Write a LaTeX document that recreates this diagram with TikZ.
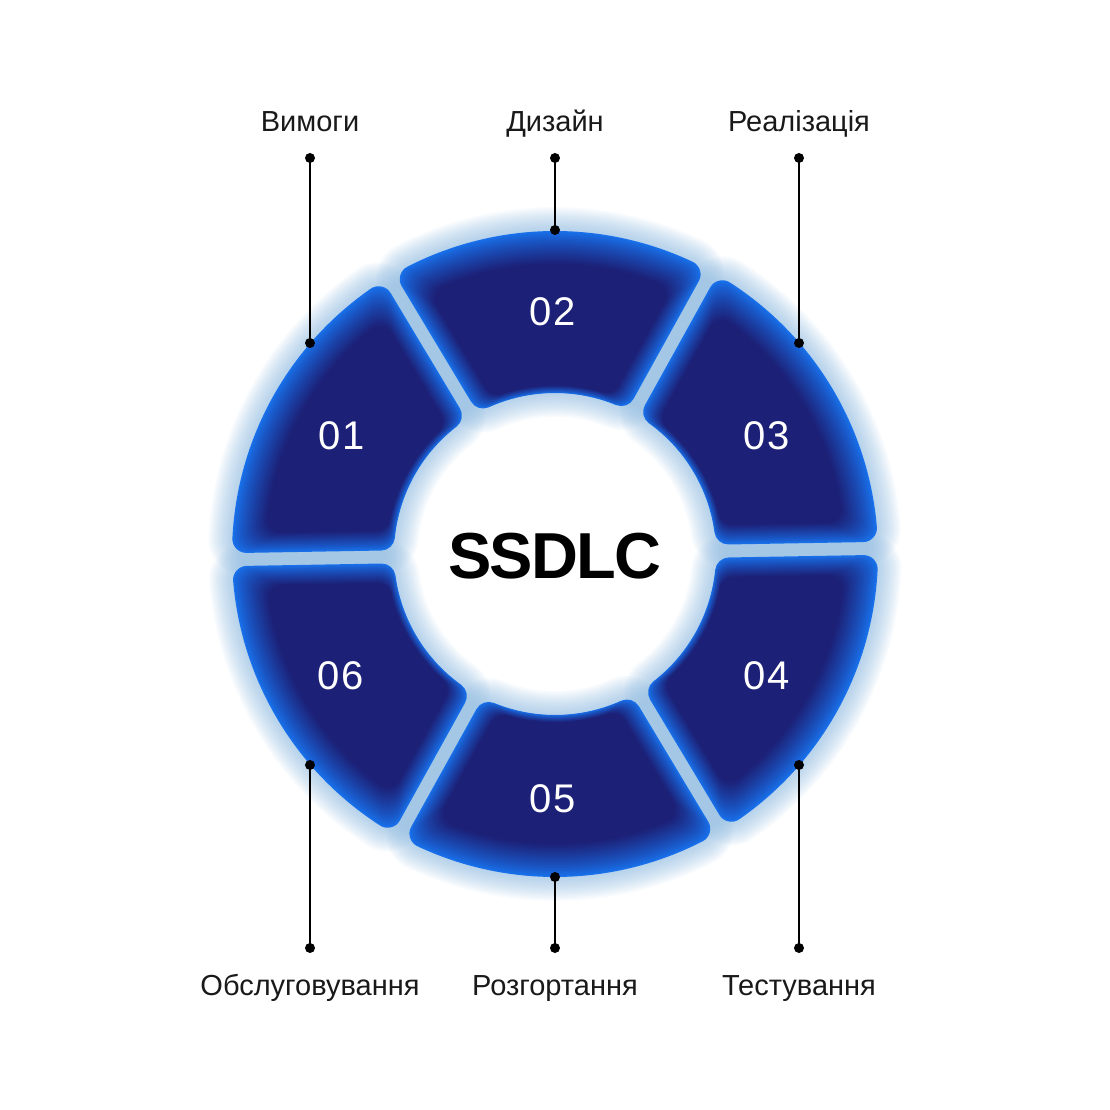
\documentclass[tikz,border=0pt]{standalone}
\usepackage{fontspec}
\setmainfont{Liberation Sans}
\newfontfamily\titlefont[LetterSpace=-2.5]{Liberation Sans}
\newfontfamily\numfont[LetterSpace=4]{Liberation Sans}
\definecolor{navyc}{RGB}{28,32,118}
\definecolor{glowc}{RGB}{24,112,234}
\definecolor{haloc}{RGB}{125,175,218}
\tikzset{
		ringseg/.style n args={4}{
			insert path={({#1-30+asin(#4/#3)}:#3) arc[start angle={#1-30+asin(#4/#3)}, end angle={#1+30-asin(#4/#3)}, radius=#3] -- ({#1+30-asin(#4/#2)}:#2) arc[start angle={#1+30-asin(#4/#2)}, end angle={#1-30+asin(#4/#2)}, radius=#2] -- cycle}
		},
		segnum/.style={text=white, font=\numfont\fontsize{40}{44}\selectfont},
		phase/.style={anchor=base, text=black!90, font=\fontsize{29}{34}\selectfont},
		title/.style={font=\titlefont\bfseries\fontsize{65}{70}\selectfont},
		pin/.style={line width=2pt, black},
		dot/.style={fill=black}
	}
\begin{document}
\begin{tikzpicture}[x=1pt,y=1pt]
	\useasboundingbox (-555,-556) rectangle (555,554);
	% soft halo round the ring
	\foreach \a in {151,91,31,-29,-89,-149}{
		\foreach \j in {1,...,14}{
			\pgfmathsetmacro\lw{28+3.4*\j}
			\path[draw=haloc, draw opacity=0.055, line width=\lw pt, line join=round] [ringseg={\a}{175}{309}{20.5}];
		}
	}
	% segments, glowing edge to dark core
	\foreach \a in {151,91,31,-29,-89,-149}{
		\foreach \k in {0,...,26}{
			\pgfmathsetmacro\p{min(100,100*(\k/22)^0.85)}
			\pgfmathsetmacro\ri{175+0.35*\k}
			\pgfmathsetmacro\ro{309-1.5*\k}
			\pgfmathsetmacro\hs{20.5+0.9*\k}
			\path[fill=navyc!\p!glowc, draw=navyc!\p!glowc, line width=28pt, line join=round] [ringseg={\a}{\ri}{\ro}{\hs}];
		}
	}
	\node[segnum] (n1) at (-213,118) {01};
	\node[segnum] (n2) at (-2,242) {02};
	\node[segnum] (n3) at (212,118) {03};
	\node[segnum] (n4) at (212,-122) {04};
	\node[segnum] (n5) at (-2,-245) {05};
	\node[segnum] (n6) at (-214,-122) {06};
	\node[title] (core) at (0,-2) {SSDLC};
	% phase labels
	\node[phase] (req) at (-245,422) {Вимоги};
	\node[phase] (design) at (0,422) {Дизайн};
	\node[phase] (impl) at (244,422) {Реалізація};
	\node[phase] (maint) at (-245,-441) {Обслуговування};
	\node[phase] (deploy) at (0,-441) {Розгортання};
	\node[phase] (test) at (244,-441) {Тестування};
	\coordinate (req top) at (-245,396);
	\coordinate (req ring) at (-245,211);
	\coordinate (design top) at (0,396);
	\coordinate (design ring) at (0,324);
	\coordinate (impl top) at (244,396);
	\coordinate (impl ring) at (244,211);
	\coordinate (maint bot) at (-245,-394);
	\coordinate (maint ring) at (-245,-211);
	\coordinate (deploy bot) at (0,-394);
	\coordinate (deploy ring) at (0,-323);
	\coordinate (test bot) at (244,-394);
	\coordinate (test ring) at (244,-211);
	\foreach \s/\e in {req top/req ring, design top/design ring, impl top/impl ring, maint bot/maint ring, deploy bot/deploy ring, test bot/test ring}{
		\draw[pin] (\s) -- (\e);
		\fill[dot] (\s) circle (5);
		\fill[dot] (\e) circle (5);
	}
\end{tikzpicture}
\end{document}
